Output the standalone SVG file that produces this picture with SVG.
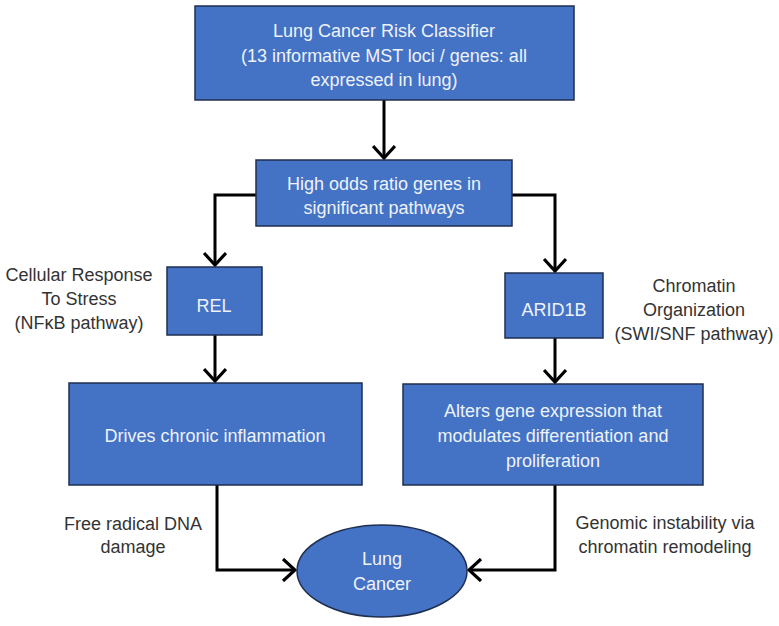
<svg xmlns="http://www.w3.org/2000/svg" width="779" height="626" viewBox="0 0 779 626">
<defs>
<style>
.box{fill:#4472C4;stroke:#1F2F4F;stroke-width:1.5}
.bt{font-family:"Liberation Sans",Arial,sans-serif;font-size:18px;fill:#EEF2FA;text-anchor:middle}
.lb{font-family:"Liberation Sans",Arial,sans-serif;font-size:18px;fill:#333;text-anchor:middle}
.cn{fill:none;stroke:#000;stroke-width:3}
</style>
<marker id="ah" viewBox="-14 -12 16 24" markerWidth="16" markerHeight="24" refX="0" refY="0" orient="auto" markerUnits="userSpaceOnUse">
<path d="M-12,-11 L0,0 L-12,11" fill="none" stroke="#000" stroke-width="3.2"/>
</marker>
</defs>
<rect width="779" height="626" fill="#fff"/>
<g id="connectors">
<path class="cn" d="M384,100 L384,158" marker-end="url(#ah)"/>
<path class="cn" d="M256,195 L215,195 L215,265" marker-end="url(#ah)"/>
<path class="cn" d="M512,195 L555,195 L555,271" marker-end="url(#ah)"/>
<path class="cn" d="M215,335 L215,381" marker-end="url(#ah)"/>
<path class="cn" d="M555,338 L555,382" marker-end="url(#ah)"/>
<path class="cn" d="M217,485 L217,570 L295,570" marker-end="url(#ah)"/>
<path class="cn" d="M555,485 L555,570 L469,570" marker-end="url(#ah)"/>
</g>
<g id="classifier">
<rect class="box" x="195" y="6" width="379" height="94"/>
<text class="bt" x="384" y="37">Lung Cancer Risk Classifier</text>
<text class="bt" x="384" y="62">(13 informative MST loci / genes: all</text>
<text class="bt" x="384" y="86">expressed in lung)</text>
</g>
<g id="high-odds">
<rect class="box" x="256" y="160" width="256" height="66"/>
<text class="bt" x="384" y="190">High odds ratio genes in</text>
<text class="bt" x="384" y="214">significant pathways</text>
</g>
<g id="rel">
<rect class="box" x="167" y="267" width="95" height="68"/>
<text class="bt" x="214" y="312">REL</text>
</g>
<g id="arid1b">
<rect class="box" x="505" y="273" width="98" height="65"/>
<text class="bt" x="554" y="316">ARID1B</text>
</g>
<g id="drives">
<rect class="box" x="69" y="383" width="293" height="102"/>
<text class="bt" x="215" y="442">Drives chronic inflammation</text>
</g>
<g id="alters">
<rect class="box" x="403" y="384" width="300" height="101"/>
<text class="bt" x="553" y="417">Alters gene expression that</text>
<text class="bt" x="553" y="442">modulates differentiation and</text>
<text class="bt" x="553" y="467">proliferation</text>
</g>
<g id="lung-cancer">
<ellipse class="box" cx="382" cy="571" rx="85" ry="46"/>
<text class="bt" x="382" y="565">Lung</text>
<text class="bt" x="382" y="590">Cancer</text>
</g>
<g id="labels">
<text class="lb" x="79" y="281">Cellular Response</text>
<text class="lb" x="79" y="305">To Stress</text>
<text class="lb" x="79" y="329">(NFκB pathway)</text>
<text class="lb" x="694" y="292">Chromatin</text>
<text class="lb" x="694" y="316">Organization</text>
<text class="lb" x="694" y="340">(SWI/SNF pathway)</text>
<text class="lb" x="133" y="530">Free radical DNA</text>
<text class="lb" x="133" y="553">damage</text>
<text class="lb" x="665" y="529">Genomic instability via</text>
<text class="lb" x="665" y="553">chromatin remodeling</text>
</g>
</svg>
